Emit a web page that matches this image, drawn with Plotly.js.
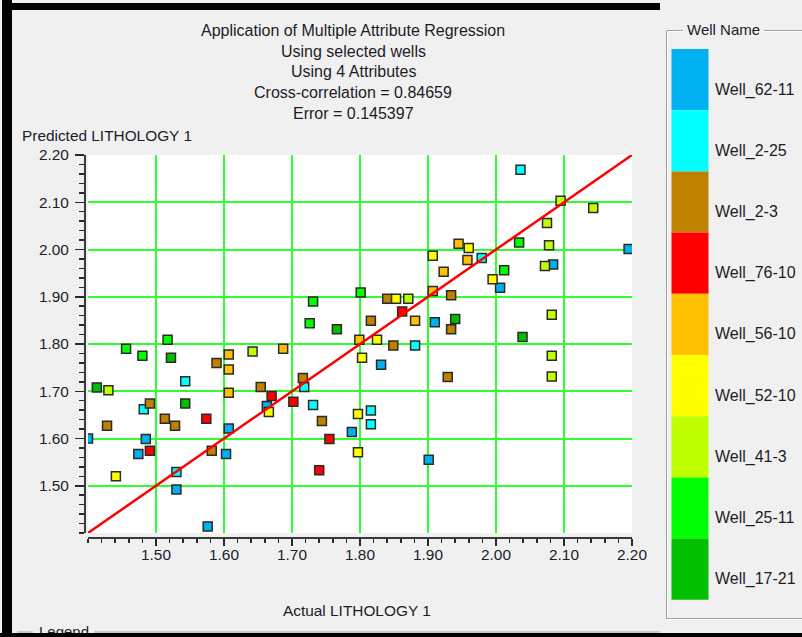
<!DOCTYPE html>
<html><head><meta charset="utf-8">
<script src="https://cdn.plot.ly/plotly-3.0.1.min.js"></script>
<style>
html,body{margin:0;padding:0;background:#F0F0F0;}
#wrap{position:relative;width:802px;height:637px;overflow:hidden;background:#F0F0F0;}
#chart{width:802px;height:637px;}
.frame{position:absolute;background:#000;pointer-events:none;}
</style></head><body>
<div id="wrap"><div id="chart"></div>
<div class="frame" style="left:2px;top:0;width:10px;height:637px"></div>
<div class="frame" style="left:2px;top:3px;width:658px;height:7px"></div>
<div class="frame" style="left:0;top:633px;width:802px;height:4px"></div>
</div>
<script>
// ---- data ----
const wellNames = ["Well_62-11","Well_2-25","Well_2-3","Well_76-10","Well_56-10","Well_52-10","Well_41-3","Well_25-11","Well_17-21"];
const wellColors = ["#00B0F0","#00FFFF","#C08000","#FF0000","#FFC000","#FFFF00","#C0FF00","#00FF00","#00C000"];

const x_62_11 = [1.400,1.485,1.474,1.603,1.607,1.530,1.576,1.663,1.788,1.831,1.901,1.910,2.006,2.084,2.195];
const y_62_11 = [1.600,1.599,1.567,1.567,1.621,1.492,1.414,1.669,1.614,1.756,1.555,1.846,1.919,1.968,2.001];

const x_2_25 = [1.543,1.482,1.530,1.718,1.731,1.816,1.816,1.881,1.979,2.036];
const y_2_25 = [1.721,1.662,1.529,1.709,1.671,1.659,1.630,1.797,1.982,2.169];

const x_2_3 = [1.589,1.654,1.491,1.513,1.528,1.428,1.582,1.716,1.744,1.816,1.840,1.849,1.934,1.934,1.929];
const y_2_3 = [1.760,1.709,1.674,1.642,1.627,1.627,1.574,1.728,1.637,1.849,1.896,1.797,1.903,1.831,1.730];

const x_76_10 = [1.670,1.574,1.491,1.702,1.755,1.740,1.862];
const y_76_10 = [1.690,1.642,1.574,1.678,1.599,1.533,1.869];

const x_56_10 = [1.607,1.607,1.607,1.687,1.799,1.881,1.907,1.923,1.945,1.958];
const y_56_10 = [1.778,1.746,1.697,1.790,1.809,1.849,1.912,1.953,2.012,1.978];

const x_52_10 = [1.441,1.666,1.797,1.797,1.803,1.825,1.853,1.907,1.960,1.995];
const y_52_10 = [1.520,1.656,1.652,1.571,1.771,1.809,1.896,1.987,2.003,1.937];

const x_41_3 = [1.642,1.430,1.871,2.095,2.143,2.075,2.078,2.072,2.082,2.082,2.082];
const y_41_3 = [1.784,1.702,1.896,2.103,2.088,2.056,2.009,1.965,1.862,1.775,1.731];

const x_25_11 = [1.517,1.456,1.480,1.801,1.731,1.726,2.034,2.012];
const y_25_11 = [1.809,1.790,1.775,1.909,1.890,1.844,2.015,1.956];

const x_17_21 = [1.522,1.413,1.543,1.766,1.940,2.039];
const y_17_21 = [1.771,1.708,1.674,1.831,1.853,1.815];

const fitX = [1.40, 2.20];
const fitY = [1.40, 2.20];

const tickValues = [1.50,1.60,1.70,1.80,1.90,2.00,2.10,2.20];
const tickLabels = ["1.50","1.60","1.70","1.80","1.90","2.00","2.10","2.20"];

const titleLines = ["Application of Multiple Attribute Regression","Using selected wells","Using 4 Attributes","Cross-correlation = 0.84659","Error = 0.145397"];
const xTitle = "Actual LITHOLOGY 1";
const yTitle = "Predicted LITHOLOGY 1";
const legendTitle = "Well Name";

// ---- build ----
const xs = [x_62_11,x_2_25,x_2_3,x_76_10,x_56_10,x_52_10,x_41_3,x_25_11,x_17_21];
const ys = [y_62_11,y_2_25,y_2_3,y_76_10,y_56_10,y_52_10,y_41_3,y_25_11,y_17_21];

const FONT = 'Arial, "Liberation Sans", sans-serif';
const TXT = '#1c1c28';
const W = 802, H = 637, ML = 85, MR = 170, MT = 155, MB = 99;
const PW = W - ML - MR, PH = H - MT - MB;
const px2x = p => (p - ML) / PW;
const py2y = p => (H - MB - p) / PH;

const traces = wellNames.map((n, i) => ({
  type: 'scatter', mode: 'markers', name: n, x: xs[i], y: ys[i],
  marker: {symbol: 'square', size: 9, color: wellColors[i], line: {color: '#2a2a2a', width: 1.5}},
  cliponaxis: true, hoverinfo: 'x+y+name'
}));
traces.push({type: 'scatter', mode: 'lines', x: fitX, y: fitY, line: {color: '#FF0000', width: 2.5}, hoverinfo: 'skip', showlegend: false});

const annotations = [];
const titleY = [30.7, 51.3, 72, 92.6, 113.2];
titleLines.forEach((t, i) => annotations.push({
  text: t, xref: 'paper', yref: 'paper', x: px2x(353), y: py2y(titleY[i]),
  xanchor: 'center', yanchor: 'middle', showarrow: false, font: {family: FONT, size: 16, color: TXT}
}));
annotations.push({text: yTitle, xref: 'paper', yref: 'paper', x: px2x(20), y: py2y(135), xanchor: 'left', yanchor: 'middle', showarrow: false, font: {family: FONT, size: 15.4, color: TXT}});
annotations.push({text: xTitle, xref: 'paper', yref: 'paper', x: px2x(357), y: py2y(610.5), xanchor: 'center', yanchor: 'middle', showarrow: false, font: {family: FONT, size: 15.4, color: TXT}});
annotations.push({text: 'Legend', xref: 'paper', yref: 'paper', x: px2x(64), y: py2y(631), xanchor: 'center', yanchor: 'middle', showarrow: false, font: {family: FONT, size: 15, color: TXT}});
annotations.push({text: legendTitle, xref: 'paper', yref: 'paper', x: px2x(723.5), y: py2y(29.5), xanchor: 'center', yanchor: 'middle', showarrow: false, font: {family: FONT, size: 15, color: TXT}});

const shapes = [];
const barTop = 49, barH = 61.2;
wellNames.forEach((n, i) => {
  const t = barTop + i * barH;
  shapes.push({type: 'rect', xref: 'paper', yref: 'paper', x0: px2x(671.5), x1: px2x(708.5), y0: py2y(t + barH), y1: py2y(t), fillcolor: wellColors[i], line: {width: 0}});
  annotations.push({text: n, xref: 'paper', yref: 'paper', x: px2x(713), y: py2y(t + barH / 2 + 10), xanchor: 'left', yanchor: 'middle', showarrow: false, font: {family: FONT, size: 16, color: TXT}});
});
const seg = (x0, y0, x1, y1, c) => ({type: 'line', xref: 'paper', yref: 'paper', x0: px2x(x0), y0: py2y(y0), x1: px2x(x1), y1: py2y(y1), line: {color: c, width: 1}});
// group box (etched)
shapes.push(seg(667, 30.5, 683, 30.5, '#A0A0A0'), seg(764, 30.5, 802, 30.5, '#A0A0A0'), seg(666.5, 30.5, 666.5, 619, '#A0A0A0'), seg(666.5, 618.5, 802, 618.5, '#A0A0A0'));
shapes.push(seg(668, 31.5, 683, 31.5, '#FFFFFF'), seg(764, 31.5, 802, 31.5, '#FFFFFF'), seg(667.5, 31.5, 667.5, 618, '#FFFFFF'), seg(666.5, 619.5, 802, 619.5, '#FFFFFF'));
// bottom "Legend" group line
shapes.push(seg(17, 632, 33, 632, '#A0A0A0'), seg(94, 632, 660, 632, '#A0A0A0'));

const axisCommon = {
  range: [1.40, 2.20], tickmode: 'array', tickvals: tickValues, ticktext: tickLabels,
  showgrid: true, gridcolor: '#2EFF2E', gridwidth: 2, zeroline: false,
  showline: true, linecolor: '#3a3a3a', linewidth: 2,
  ticks: 'outside', tickcolor: '#2a2a2a', tickwidth: 1.5,
  tickfont: {family: FONT, size: 15.4, color: TXT},
  anchor: 'free', position: 0, fixedrange: true
};

const layout = {
  width: W, height: H,
  margin: {l: ML, r: MR, t: MT, b: MB, pad: 0},
  paper_bgcolor: '#F0F0F0', plot_bgcolor: '#FFFFFF',
  showlegend: false,
  xaxis: Object.assign({}, axisCommon, {domain: [3 / PW, 1], ticklen: 7, ticklabelstandoff: -4,
    minor: {tickmode: 'linear', tick0: 1.40, dtick: 0.02, ticklen: 4, tickcolor: '#2a2a2a', tickwidth: 1.5, showgrid: false}}),
  yaxis: Object.assign({}, axisCommon, {domain: [5 / PH, 1], ticklen: 9, ticklabelstandoff: 3,
    minor: {tickmode: 'linear', tick0: 1.40, dtick: 0.02, ticklen: 5, tickcolor: '#2a2a2a', tickwidth: 1.5, showgrid: false}}),
  annotations: annotations, shapes: shapes,
  hovermode: 'closest'
};

Plotly.newPlot('chart', traces, layout, {displayModeBar: false, staticPlot: true});
</script>
</body></html>
